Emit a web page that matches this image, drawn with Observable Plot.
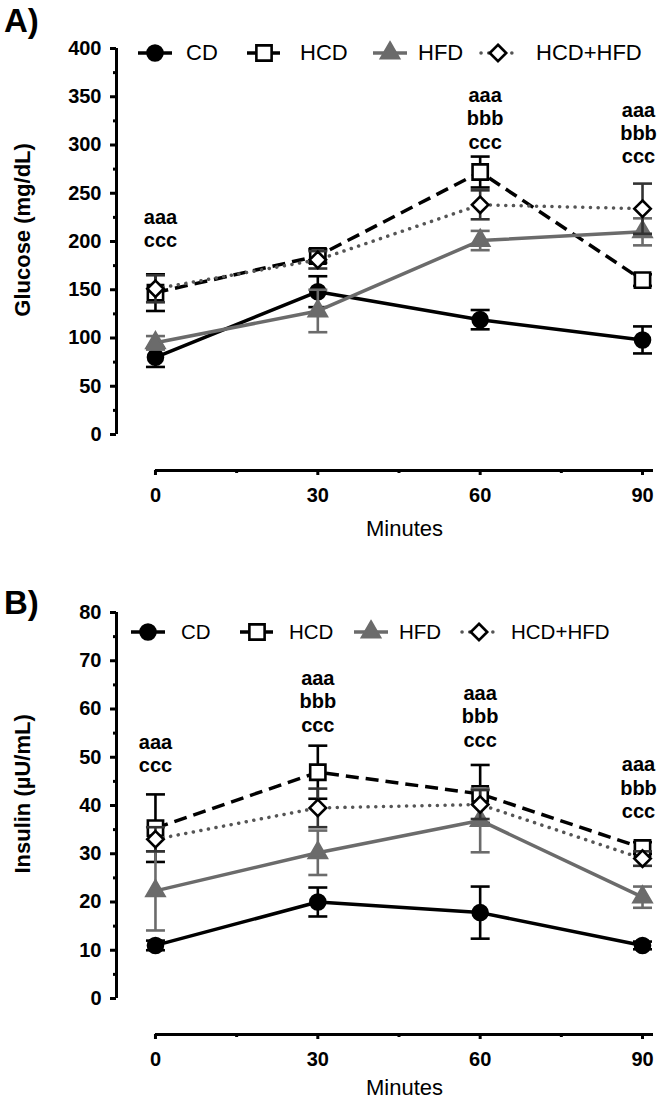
<!DOCTYPE html>
<html>
<head>
<meta charset="utf-8">
<script src="https://cdn.jsdelivr.net/npm/d3@7"></script>
<script src="https://cdn.jsdelivr.net/npm/@observablehq/plot@0.6"></script>
<style>
  body { margin: 0; background: #fff; font-family: "Liberation Sans", Arial, Helvetica, sans-serif; }
  #fig { position: relative; width: 662px; height: 1103px; overflow: hidden; background: #fff; }
  .panel { position: absolute; left: 0; width: 662px; }
  .panel svg { display: block; }
  .letter { position: absolute; left: 4px; font-weight: bold; font-size: 33px; line-height: 1; }
  .key { position: absolute; height: 24px; display: flex; align-items: center; white-space: nowrap; line-height: 1; color: #000; }
  .key svg { position: absolute; top: 0; }
</style>
</head>
<body>
<div id="fig"></div>
<script>
// Sampling times (minutes) and diet groups
const minutes = [0, 30, 60, 90];
const groups = ["CD", "HCD", "HFD", "HCD+HFD"];

// Glucose (mg/dL): mean and SEM per group
const glucoseCD = [80, 148, 119, 98];
const glucoseCDErr = [10, 16, 10, 14];
const glucoseHCD = [147, 185, 272, 160];
const glucoseHCDErr = [19, 7, 16, 6];
const glucoseHFD = [95, 128, 201, 210];
const glucoseHFDErr = [7, 22, 10, 14];
const glucoseHCDHFD = [151, 181, 238, 234];
const glucoseHCDHFDErr = [14, 9, 15, 26];

// Insulin (µU/mL): mean and SEM per group
const insulinCD = [11, 20, 17.8, 11];
const insulinCDErr = [1, 3, 5.4, 0.8];
const insulinHCD = [35.3, 46.9, 42.4, 31.2];
const insulinHCDErr = [7, 5.5, 6, 1.2];
const insulinHFD = [22.3, 30.2, 36.9, 21];
const insulinHFDErr = [8.2, 4.6, 6.6, 2.2];
const insulinHCDHFD = [33, 39.5, 40.2, 29];
const insulinHCDHFDErr = [2.5, 4, 3, 1.5];

// Significance letters: time point, text, value at the centre of the block
const glucoseSigTimes = [0, 60, 90];
const glucoseSigText = ["aaa\nccc", "aaa\nbbb\nccc", "aaa\nbbb\nccc"];
const glucoseSigAt = [214, 328, 313];
const insulinSigTimes = [0, 30, 60, 90];
const insulinSigText = ["aaa\nccc", "aaa\nbbb\nccc", "aaa\nbbb\nccc", "aaa\nbbb\nccc"];
const insulinSigAt = [50.9, 61.7, 58.6, 43.8];

// Tick values
const glucoseTicks = [0, 50, 100, 150, 200, 250, 300, 350, 400];
const insulinTicks = [0, 10, 20, 30, 40, 50, 60, 70, 80];

// ---- appearance of each group ----
const look = {
  "CD":      {line: "#000", dash: null,      cap: "butt",  symbol: "circle",   fill: "#000",    edge: "#000",    err: "#000",    r: 7.5},
  "HCD":     {line: "#000", dash: "13,7",    cap: "butt",  symbol: "square",   fill: "#fff",    edge: "#000",    err: "#000",    r: 8.6},
  "HFD":     {line: "#6b6b6b", dash: null,   cap: "butt",  symbol: "triangle", fill: "#6b6b6b", edge: "#6b6b6b", err: "#6b6b6b", r: 6.6},
  "HCD+HFD": {line: "#555", dash: "0.1,7.6", cap: "round", symbol: "diamond2", fill: "#fff",    edge: "#000",    err: "#333",    r: 7.4}
};
const d3Symbols = {circle: d3.symbolCircle, square: d3.symbolSquare, triangle: d3.symbolTriangle, diamond2: d3.symbolDiamond2};

// horizontal cap for error bars, half-width = r
const capSymbol = {
  draw(context, size) {
    const w = Math.sqrt(size / Math.PI);
    context.moveTo(-w, 0);
    context.lineTo(w, 0);
  }
};

const FONT = '"Liberation Sans", Arial, Helvetica, sans-serif';
const X_DOMAIN = [-7.2, 92.03];   // axis line offset left of 0, axis runs a bit past 90
const PLOT_TOP = 48, PLOT_BOTTOM = 470, ZERO_GAP = 36;

function buildPanel(cfg) {
  const yMax = cfg.ticks[cfg.ticks.length - 1];
  const step = cfg.ticks[1] - cfg.ticks[0];
  const plotSpan = PLOT_BOTTOM - PLOT_TOP - ZERO_GAP;
  const yLo = -yMax * ZERO_GAP / plotSpan;
  const minor = cfg.ticks.slice(0, -1).map(v => v + step / 2);
  const lastTime = minutes[minutes.length - 1];

  const rows = groups.flatMap((g, gi) =>
    minutes.map((t, i) => ({g, t, v: cfg.values[gi][i], e: cfg.errors[gi][i]})));
  const sig = cfg.sigTimes.map((t, i) => ({t, y: cfg.sigAt[i], text: cfg.sigText[i]}));

  const marks = [
    // axis lines
    Plot.ruleX([X_DOMAIN[0]], {y1: 0, y2: yMax, stroke: "#000", strokeWidth: 3}),
    Plot.ruleY([yLo], {x1: 0, x2: X_DOMAIN[1], stroke: "#000", strokeWidth: 3}),
    Plot.axisY({ticks: cfg.ticks, tickSize: 6, tickPadding: 9, strokeWidth: 3, fontSize: 20, fontWeight: "bold", label: null}),
    Plot.axisY({ticks: minor, tickSize: 3, strokeWidth: 3, tickFormat: () => "", label: null}),
    Plot.axisX({ticks: minutes, tickSize: 5, tickPadding: 12, strokeWidth: 3, fontSize: 20, fontWeight: "bold", label: null}),
    Plot.axisX({ticks: [15, 45, 75], tickSize: 3, strokeWidth: 3, tickFormat: () => "", label: null}),
    // axis titles
    Plot.text([cfg.title], {frameAnchor: "left", y: yMax * 0.53, dx: -94, rotate: -90, text: d => d,
      textAnchor: "middle", fontSize: 22, fontWeight: "bold", fill: "#000"}),
    Plot.text(["Minutes"], {x: X_DOMAIN[1] / 2, y: yLo, dy: cfg.xTitleDy, text: d => d, fontSize: 22, fill: "#000"})
  ];

  for (const g of groups) {
    const s = look[g];
    const sub = rows.filter(d => d.g === g);
    marks.push(
      Plot.ruleX(sub, {x: "t", y1: d => d.v - d.e, y2: d => d.v + d.e, stroke: s.err, strokeWidth: 2.6}),
      Plot.dot(sub, {x: "t", y: d => d.v + d.e, symbol: capSymbol, r: 9.5, stroke: s.err, strokeWidth: 2.6, fill: "none"}),
      Plot.dot(sub, {x: "t", y: d => d.v - d.e, symbol: capSymbol, r: 9.5, stroke: s.err, strokeWidth: 2.6, fill: "none"}),
      Plot.line(sub, {x: "t", y: "v", stroke: s.line, strokeWidth: 3.5, strokeDasharray: s.dash, strokeLinecap: s.cap}),
      Plot.dot(sub, {x: "t", y: "v", symbol: s.symbol, r: s.r, fill: s.fill, stroke: s.edge, strokeWidth: 2.6})
    );
  }

  // letters; the block at the last time point is nudged in from the right edge
  const sigText = {text: "text", fontSize: 20, fontWeight: "bold", lineHeight: 1.17, lineAnchor: "middle", fill: "#000"};
  marks.push(
    Plot.text(sig.filter(d => d.t !== lastTime), {x: "t", y: "y", dx: cfg.sigDx, ...sigText}),
    Plot.text(sig.filter(d => d.t === lastTime), {x: "t", y: "y", dx: -4, ...sigText})
  );

  const svg = Plot.plot({
    width: 662,
    height: cfg.height,
    marginLeft: 116,
    marginRight: 9,
    marginTop: PLOT_TOP,
    marginBottom: cfg.height - PLOT_BOTTOM,
    x: {domain: X_DOMAIN},
    y: {domain: [yLo, yMax]},
    style: {fontFamily: FONT, background: "#fff", color: "#000", overflow: "visible"},
    marks
  });

  const div = document.createElement("div");
  div.className = "panel";
  div.style.top = cfg.top + "px";
  div.style.height = cfg.height + "px";
  div.appendChild(svg);

  const letter = document.createElement("div");
  letter.className = "letter";
  letter.style.top = cfg.letterTop + "px";
  letter.textContent = cfg.letter;
  div.appendChild(letter);

  // legend: line sample with symbol, then the group name
  groups.forEach((g, i) => {
    const s = look[g];
    const cx = cfg.keySymbolX[i];
    const key = document.createElement("div");
    key.className = "key";
    key.style.left = (cx - 20) + "px";
    key.style.top = (cfg.keyY - 12) + "px";
    key.style.fontSize = cfg.keyFont + "px";
    const sw = d3.create("svg").attr("width", 40).attr("height", 24).style("left", "0px").style("overflow", "visible");
    sw.append("line").attr("x1", 3).attr("x2", 37).attr("y1", 12).attr("y2", 12)
      .attr("stroke", s.line).attr("stroke-width", 3.5)
      .attr("stroke-dasharray", s.dash).attr("stroke-linecap", s.cap);
    sw.append("path").attr("transform", "translate(20,12)")
      .attr("d", d3.symbol(d3Symbols[s.symbol], s.r * s.r * Math.PI)())
      .attr("fill", s.fill).attr("stroke", s.edge).attr("stroke-width", 2.6);
    key.appendChild(sw.node());
    const label = document.createElement("span");
    label.textContent = g;
    label.style.position = "absolute";
    label.style.left = (cfg.keyTextX[i] - (cx - 20)) + "px";
    key.appendChild(label);
    div.appendChild(key);
  });

  document.getElementById("fig").appendChild(div);
}

buildPanel({
  top: 0, height: 564, letter: "A)", letterTop: 4,
  title: "Glucose (mg/dL)", ticks: glucoseTicks, xTitleDy: 58,
  values: [glucoseCD, glucoseHCD, glucoseHFD, glucoseHCDHFD],
  errors: [glucoseCDErr, glucoseHCDErr, glucoseHFDErr, glucoseHCDHFDErr],
  sigTimes: glucoseSigTimes, sigText: glucoseSigText, sigAt: glucoseSigAt, sigDx: 5,
  keyY: 53, keyFont: 22, keySymbolX: [155, 264, 390, 498], keyTextX: [186, 300, 418, 536]
});

buildPanel({
  top: 564, height: 539, letter: "B)", letterTop: 22,
  title: "Insulin (µU/mL)", ticks: insulinTicks, xTitleDy: 53,
  values: [insulinCD, insulinHCD, insulinHFD, insulinHCDHFD],
  errors: [insulinCDErr, insulinHCDErr, insulinHFDErr, insulinHCDHFDErr],
  sigTimes: insulinSigTimes, sigText: insulinSigText, sigAt: insulinSigAt, sigDx: 0,
  keyY: 68, keyFont: 20.5, keySymbolX: [148, 257, 371, 479], keyTextX: [181, 289, 399, 511]
});
</script>
</body>
</html>
